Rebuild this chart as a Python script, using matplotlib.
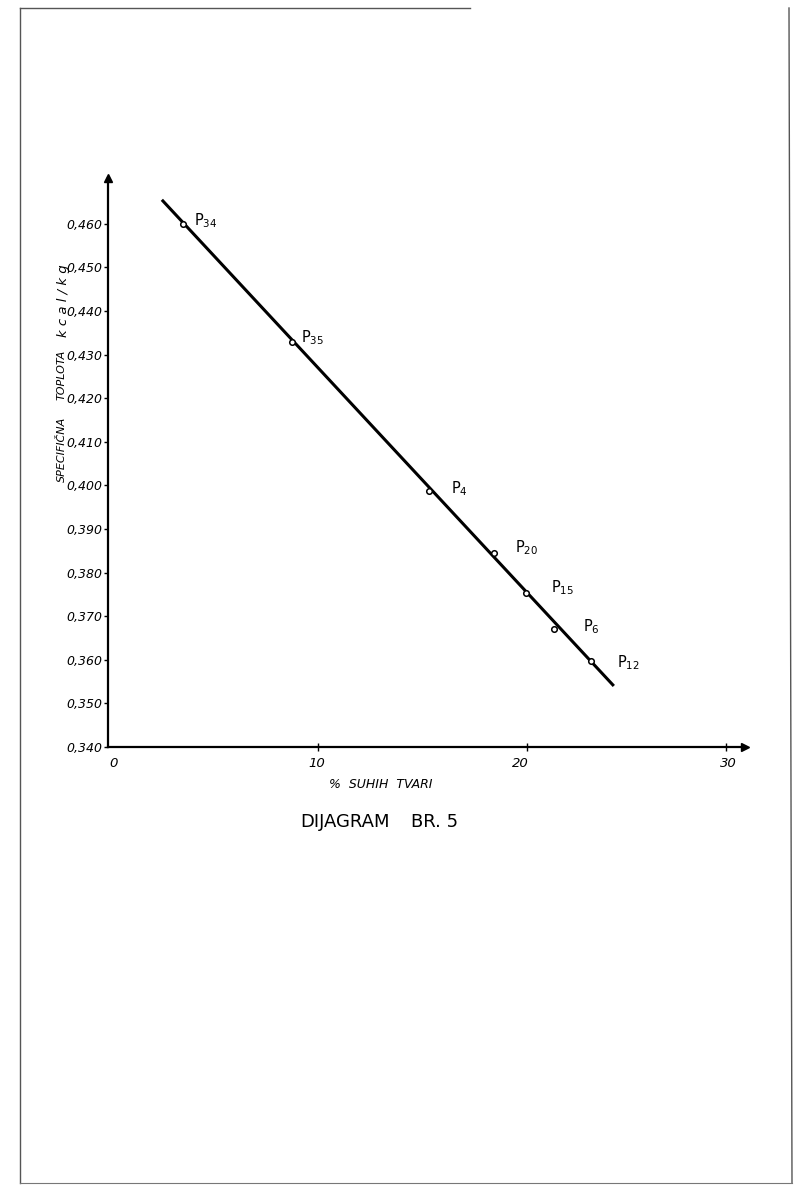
import numpy as np
import matplotlib
matplotlib.use("Agg")
import matplotlib.pyplot as plt
from matplotlib.lines import Line2D

# measured points (% dry matter, specific heat kcal/kg)
labels = ["34", "35", "4", "20", "15", "6", "12"]
suhaTvar = [3.57, 8.76, 15.33, 18.43, 19.95, 21.29, 23.05]
toplota = [0.4600, 0.4329, 0.3987, 0.3845, 0.3753, 0.3671, 0.3597]

# fitted line end points
lineX = [2.57, 24.14]
lineY = [0.4655, 0.3540]

yTicks = [0.340, 0.350, 0.360, 0.370, 0.380, 0.390, 0.400,
          0.410, 0.420, 0.430, 0.440, 0.450, 0.460]
yTickLabels = ["0,340", "0,350", "0,360", "0,370", "0,380", "0,390", "0,400",
               "0,410", "0,420", "0,430", "0,440", "0,450", "0,460"]
xTicks = [0, 10, 20, 30]
xLabelPos = [0.25, 9.95, 19.7, 29.6]

fig = plt.figure(figsize=(8, 11.88), dpi=100)
W, H = 800, 1188
ax = fig.add_axes([108 / W, (H - 747) / H, 637 / W, 569 / H])
ax.set_xlim(0, 30.4)
ax.set_ylim(0.340, 0.4705)

for s in ["top", "right"]:
    ax.spines[s].set_visible(False)
ax.spines["left"].set_linewidth(1.6)
ax.spines["bottom"].set_linewidth(1.6)

# arrow heads
ax.plot(1, 0, ">", transform=ax.transAxes, color="black", ms=6, clip_on=False)
ax.plot(0, 1, "^", transform=ax.transAxes, color="black", ms=6, clip_on=False)

ax.set_yticks(yTicks)
ax.set_yticklabels(yTickLabels, fontsize=9, style="italic")
ax.tick_params(axis="y", direction="out", length=3, width=1, pad=1)

ax.set_xticks([10, 20, 29.5])
ax.set_xticklabels([])
ax.tick_params(axis="x", direction="inout", length=6, width=1)
for xv, xp in zip(xTicks, xLabelPos):
    ax.text(xp, 0.3362, str(xv), ha="center", va="center",
            fontsize=9.5, style="italic")

ax.plot(lineX, lineY, color="black", lw=2.2, solid_capstyle="butt")
ax.plot(suhaTvar, toplota, "o", ms=4, mfc="white", mec="black", mew=1.1)

offsets = {"34": (0.55, 0.0008), "35": (0.45, 0.0010), "4": (1.05, 0.0006),
           "20": (1.0, 0.0012), "15": (1.2, 0.0012), "6": (1.4, 0.0004),
           "12": (1.25, -0.0004)}
for lab, xv, yv in zip(labels, suhaTvar, toplota):
    dx, dy = offsets[lab]
    ax.text(xv + dx, yv + dy, "P$_{" + lab + "}$", fontsize=10.5,
            ha="left", va="center")

ax.text(13.0, 0.3315, "%  SUHIH  TVARI", fontsize=9, style="italic",
        ha="center", va="center")
fig.text(345 / W, 1 - 822 / H, "DIJAGRAM", fontsize=13,
         ha="center", va="center")
fig.text(435 / W, 1 - 822 / H, "BR. 5", fontsize=13,
         ha="center", va="center")

fig.text(62 / W, 1 - 449 / H, "SPECIFIČNA", rotation=90,
         fontsize=8, style="italic", ha="center", va="center")
fig.text(62 / W, 1 - 375 / H, "TOPLOTA", rotation=90,
         fontsize=8, style="italic", ha="center", va="center")
fig.text(63 / W, 1 - 301 / H, "k c a l / k g", rotation=90, fontsize=9.5,
         style="italic", ha="center", va="center")

# page frame
fig.add_artist(Line2D([20 / W, 20 / W], [0.004, 1 - 8 / H], color="#555555", lw=1.0))
fig.add_artist(Line2D([20 / W, 470 / W], [1 - 8 / H, 1 - 8 / H], color="#555555", lw=1.0))
fig.add_artist(Line2D([789 / W, 792 / W], [1 - 8 / H, 0.004], color="#555555", lw=1.0))
fig.add_artist(Line2D([20 / W, 792 / W], [0.004, 0.004], color="#777777", lw=0.8))

fig.savefig("out.png", dpi=100, facecolor="white")
